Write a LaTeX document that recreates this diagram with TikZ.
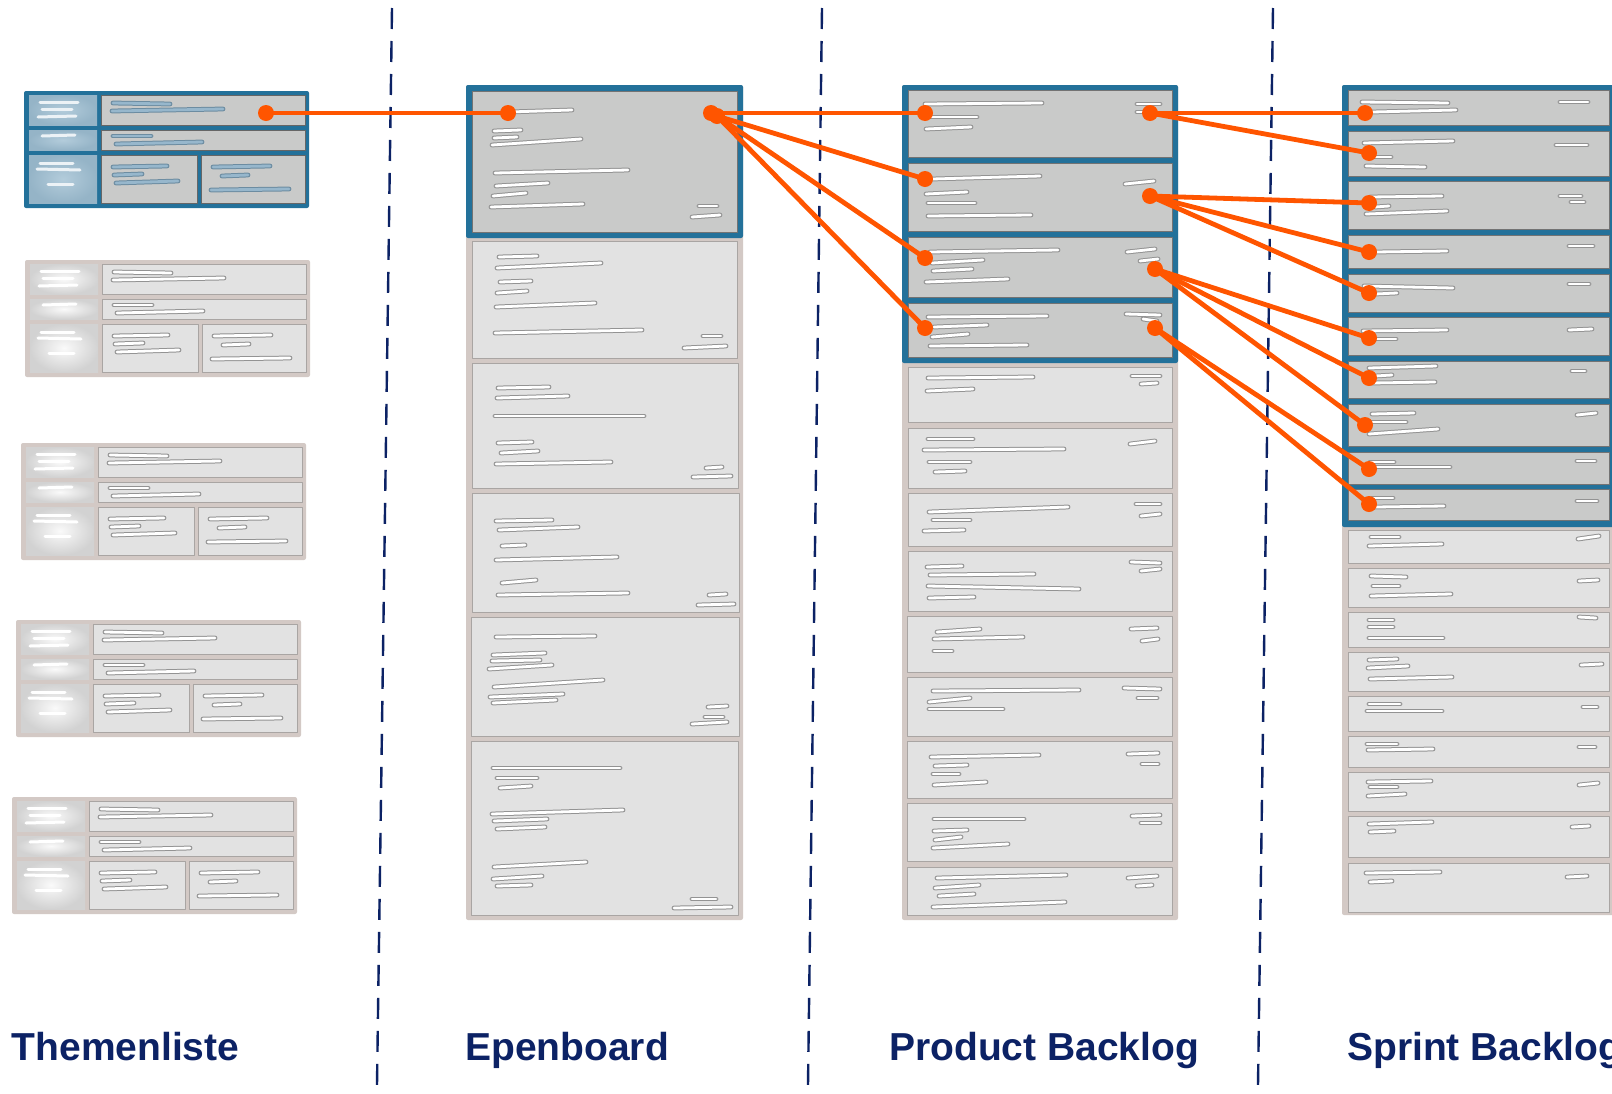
\documentclass[tikz,border=0pt]{standalone}
\usepackage{fontspec}
\setmainfont{Liberation Sans}
\definecolor{tblue}{HTML}{23719A}
\definecolor{taupe}{HTML}{D3C9C5}
\definecolor{cgray}{HTML}{C9CAC9}
\definecolor{clight}{HTML}{E2E2E2}
\definecolor{cedge}{HTML}{A9A5A3}
\definecolor{navy}{HTML}{0C2265}
\definecolor{orng}{HTML}{FF5500}
\definecolor{lbA}{HTML}{B3CCDB}
\definecolor{lbB}{HTML}{95B4C7}
\definecolor{blA}{HTML}{97B7CC}
\definecolor{blB}{HTML}{6C8CA1}
\tikzset{
  graycard/.style={fill=cgray, draw=gray!90!black, line width=0.9pt},
  lightcard/.style={fill=clight, draw=cedge, line width=0.9pt},
  txt/.style={line cap=round, draw=white, line width=2.8pt, preaction={draw=gray!85, line width=4.8pt, line cap=round}},
  btxt/.style={line cap=round, draw=blA, line width=2.8pt, preaction={draw=blB, line width=4.8pt, line cap=round}},
  wtxt/.style={line cap=round, draw=white, line width=3pt},
  lwtxt/.style={line cap=round, draw=white!75!lbA, line width=3pt},
  lcellB/.style={inner color=lbA, outer color=lbB},
  lcellG/.style={inner color=white!96!gray, outer color=gray!35},
  rcellB/.style={fill=cgray, draw=gray!80!black, line width=0.8pt},
  rcellG/.style={fill=clight, draw=cedge, line width=0.8pt},
  sep/.style={draw=navy, line width=2.4pt, dash pattern=on 21pt off 12pt},
  conn/.style={draw=orng, line width=4.8pt, line cap=round},
  dot/.style={fill=orng},
  lab/.style={font=\bfseries\fontsize{39}{45}\selectfont, text=navy, anchor=base west, inner sep=0pt}
}
\newcommand\themecard[7]{%
\begin{scope}[shift={(#1,#2)}]
\fill[#3, rounded corners=2pt] (0,0) rectangle (285,117);
\foreach \a/\b in {4/34,39/59,64/112}{\shade[#4] (5,\a) rectangle (73,\b);}
\foreach \a/\b/\c/\d in {77/4/281/34, 77/39/281/59, 77/64/173/112, 177/64/281/112}{\filldraw[#5] (\a,\b) rectangle (\c,\d);}
\foreach \a/\b/\c/\d in {89/12/146/13, 88/20/199/18, 89/45/127/45, 92/53/178/51, 89/76/143/75, 90/84/118/83, 92/92/154/90, 189/76/246/75, 198/85/224/84, 187/99/265/98}{\draw[#6] (\a,\b) -- (\c,\d);}
\foreach \a/\b/\c/\d in {16/11/54/11, 18/18/48/18, 14/26/52/25, 18/45/51/44, 16/72/49/72, 13/78/56/79, 24/93/49/93}{\draw[#7] (\a,\b) -- (\c,\d);}
\end{scope}}
\begin{document}
\begin{tikzpicture}[x=1pt,y=-1pt,line join=round]
\useasboundingbox (0,0) rectangle (1612,1093);
\clip (0,0) rectangle (1612,1093);
\fill[white] (0,0) rectangle (1612,1093);

% ---------- separators
\coordinate (d1a) at (392,8);   \coordinate (d1b) at (377,1085);
\coordinate (d2a) at (822,8);   \coordinate (d2b) at (808,1085);
\coordinate (d3a) at (1273,8);  \coordinate (d3b) at (1258,1085);
\draw[sep] (d1a) -- (d1b);
\draw[sep] (d2a) -- (d2b);
\draw[sep] (d3a) -- (d3b);

% ---------- Themenliste
\themecard{24}{91}{tblue}{lcellB}{rcellB}{btxt}{lwtxt}
\themecard{25}{260}{taupe}{lcellG}{rcellG}{txt}{wtxt}
\themecard{21}{443}{taupe}{lcellG}{rcellG}{txt}{wtxt}
\themecard{16}{620}{taupe}{lcellG}{rcellG}{txt}{wtxt}
\themecard{12}{797}{taupe}{lcellG}{rcellG}{txt}{wtxt}

% ---------- Epenboard
\fill[taupe, rounded corners=2pt] (466,85) rectangle (743,920);
\fill[tblue, rounded corners=2pt] (466,85) rectangle (743,238);
\filldraw[graycard] (472,91) rectangle (737,232);
\foreach \a/\b/\c/\d in {472/241/737/358, 472/363/738/488, 472/493/739/612, 471/617/739/736, 471/741/738/915}
  {\filldraw[lightcard] (\a,\b) rectangle (\c,\d);}
\foreach \a/\b/\c/\d in {
 508/112/572/110, 494/131/521/130, 494/138/517/137, 492/145/581/139, 495/173/628/170, 496/186/548/183, 493/196/526/193, 491/207/583/204, 699/206/717/206, 692/217/720/215,
 499/257/537/256, 497/268/601/263, 500/282/531/281, 497/293/527/291, 496/307/595/303, 495/333/642/330, 703/336/721/336, 684/348/726/346,
 498/388/549/387, 497/398/568/396, 495/416/644/416, 498/443/532/442, 501/453/538/451, 496/464/611/462, 706/468/722/467, 693/477/731/476,
 496/521/552/520, 499/530/578/527, 502/546/525/545, 496/560/617/557, 502/583/536/580, 498/595/628/593, 709/595/726/594, 698/605/734/604,
 496/637/595/636, 493/655/545/653, 492/661/540/660, 489/669/552/665, 494/687/603/680, 490/697/563/694, 493/703/556/700, 708/707/727/706, 705/717/723/717, 692/724/727/722,
 493/768/620/768, 497/778/537/778, 500/788/531/786, 492/814/623/810, 494/821/547/819, 497/829/545/827, 494/867/586/862, 493/879/542/876, 497/886/531/885, 692/899/716/899, 674/908/731/907}
  {\draw[txt] (\a,\b) -- (\c,\d);}

% ---------- Product Backlog
\fill[taupe, rounded corners=2pt] (902,85) rectangle (1178,920);
\fill[tblue, rounded corners=2pt] (902,85) rectangle (1178,363);
\foreach \a/\b/\c/\d in {908/90/1172/157, 908/163/1172/231, 908/237/1172/297, 908/303/1172/357}
  {\filldraw[graycard] (\a,\b) rectangle (\c,\d);}
\foreach \a/\b/\c/\d in {908/367/1172/422, 908/428/1172/488, 908/493/1172/546, 908/551/1172/611, 907/616/1172/672, 907/677/1172/736, 907/741/1172/798, 907/803/1172/861, 907/867/1172/915}
  {\filldraw[lightcard] (\a,\b) rectangle (\c,\d);}
\foreach \a/\b/\c/\d in {
 925/104/1042/103, 927/117/977/117, 926/129/971/127, 1137/104/1160/104, 1137/112/1150/112,
 932/179/1040/176, 926/194/967/192, 928/203/975/203, 928/216/1031/215, 1125/184/1154/181,
 930/252/1058/250, 932/263/983/260, 933/271/972/269, 926/282/1008/279, 1127/252/1155/249, 1140/261/1158/259,
 928/317/1047/316, 934/327/987/325, 932/337/968/334, 930/346/1027/345, 1126/314/1160/315, 1143/319/1157/321,
 928/378/1033/377, 927/391/973/389, 1132/376/1160/376, 1141/384/1157/383,
 928/439/973/439, 924/450/1064/449, 929/462/970/462, 935/472/965/471, 1130/444/1155/441,
 929/512/1068/507, 933/520/970/520, 924/531/964/530, 1136/504/1160/504, 1141/516/1160/514,
 927/567/962/566, 930/575/1034/574, 928/586/1079/589, 929/598/974/597, 1131/562/1160/563, 1141/571/1160/569,
 937/632/980/629, 934/639/1023/637, 934/651/952/651, 1131/629/1157/628, 1142/641/1158/639,
 933/691/1079/690, 929/702/970/698, 929/709/1003/709, 1124/688/1160/689, 1138/698/1157/698,
 931/757/1039/755, 935/766/967/765, 933/774/959/774, 934/785/986/782, 1128/754/1158/753, 1142/764/1158/764,
 934/819/1024/819, 934/831/967/830, 935/840/961/837, 933/848/1008/844, 1132/816/1160/815, 1141/823/1160/823,
 937/878/1066/875, 935/888/979/885, 939/896/974/894, 933/907/1065/902, 1128/878/1157/876, 1137/886/1152/885}
  {\draw[txt] (\a,\b) -- (\c,\d);}

% ---------- Sprint Backlog
\fill[taupe, rounded corners=2pt] (1342,85) rectangle (1630,915);
\fill[tblue, rounded corners=2pt] (1342,85) rectangle (1630,527);
\foreach \b/\d in {90/125, 131/176, 181/229, 235/268, 274/312, 317/355, 361/398, 404/446, 452/484, 489/520}
  {\filldraw[graycard] (1348,\b) rectangle (1609,\d);}
\foreach \b/\d in {530/563, 568/607, 612/647, 652/691, 696/731, 736/767, 772/811, 816/857, 863/912}
  {\filldraw[lightcard] (1348,\b) rectangle (1609,\d);}
\foreach \a/\b/\c/\d in {
 1362/102/1448/103, 1372/112/1456/110, 1560/102/1588/102,
 1364/143/1453/141, 1375/157/1391/157, 1366/166/1425/167, 1556/145/1587/145,
 1370/197/1442/196, 1375/207/1389/206, 1366/214/1447/211, 1560/196/1581/196, 1571/202/1584/202,
 1375/252/1447/251, 1569/246/1593/246,
 1364/286/1453/288, 1375/294/1397/293, 1569/284/1589/284,
 1363/331/1447/330, 1375/339/1396/339, 1569/330/1592/329,
 1369/368/1436/366, 1375/376/1392/375, 1370/383/1435/382, 1572/371/1585/371,
 1372/414/1414/413, 1370/422/1406/422, 1369/434/1438/429, 1577/415/1596/413,
 1370/462/1394/462, 1375/467/1450/467, 1577/461/1595/461,
 1372/498/1393/498, 1375/507/1444/506, 1577/501/1597/501,
 1371/537/1399/537, 1369/546/1442/544, 1578/539/1599/536,
 1371/576/1406/577, 1373/586/1399/586, 1371/596/1451/594, 1579/581/1598/580,
 1369/620/1393/620, 1369/627/1393/627, 1369/638/1443/638, 1579/617/1596/618,
 1369/660/1397/659, 1368/668/1408/666, 1370/679/1452/677, 1581/665/1602/664,
 1369/704/1400/704, 1367/711/1442/711, 1583/707/1597/707,
 1367/744/1397/744, 1368/750/1433/749, 1579/747/1595/747,
 1368/782/1431/781, 1370/787/1397/787, 1368/796/1405/794, 1579/785/1598/783,
 1369/824/1432/822, 1370/832/1394/831, 1572/827/1589/826,
 1366/873/1440/872, 1370/882/1392/881, 1567/877/1587/876}
  {\draw[txt] (\a,\b) -- (\c,\d);}

% ---------- connection points
\coordinate (t1) at (266,113);
\coordinate (e1) at (508,113);
\coordinate (e2) at (711,113);
\coordinate (e2b) at (717,116);
\coordinate (p1l) at (925,113);
\coordinate (p2l) at (925,179);
\coordinate (p3l) at (925,258);
\coordinate (p4l) at (925,328);
\coordinate (p1r) at (1150,113);
\coordinate (p2r) at (1150,196);
\coordinate (p3r) at (1155,269);
\coordinate (p4r) at (1155,328);
\coordinate (s1) at (1365,113);
\coordinate (s2) at (1369,153);
\coordinate (s3) at (1369,203);
\coordinate (s4) at (1369,252);
\coordinate (s5) at (1369,293);
\coordinate (s6) at (1369,338);
\coordinate (s7) at (1369,378);
\coordinate (s8) at (1365,425);
\coordinate (s9) at (1369,469);
\coordinate (s10) at (1369,504);

\draw[conn] (t1) -- (e1);
\draw[conn] (e2) -- (p1l);
\draw[conn] (e2b) -- (p2l);
\draw[conn] (e2b) -- (p3l);
\draw[conn] (e2b) -- (p4l);
\draw[conn] (p1r) -- (s1);
\draw[conn] (p1r) -- (s2);
\draw[conn] (p2r) -- (s3);
\draw[conn] (p2r) -- (s4);
\draw[conn] (p2r) -- (s5);
\draw[conn] (p3r) -- (s6);
\draw[conn] (p3r) -- (s7);
\draw[conn] (p3r) -- (s8);
\draw[conn] (p4r) -- (s9);
\draw[conn] (p4r) -- (s10);
\foreach \p in {t1,e1,e2,e2b,p1l,p2l,p3l,p4l,p1r,p2r,p3r,p4r,s1,s2,s3,s4,s5,s6,s7,s8,s9,s10}
  {\fill[dot] (\p) circle (8);}

% ---------- labels
\node[lab] (lt) at (11.5,1060) {Themenliste};
\node[lab] (le) at (465,1060) {Epenboard};
\node[lab] (lp) at (889,1060) {Product Backlog};
\node[lab] (ls) at (1347,1060) {Sprint Backlog};
\end{tikzpicture}
\end{document}
